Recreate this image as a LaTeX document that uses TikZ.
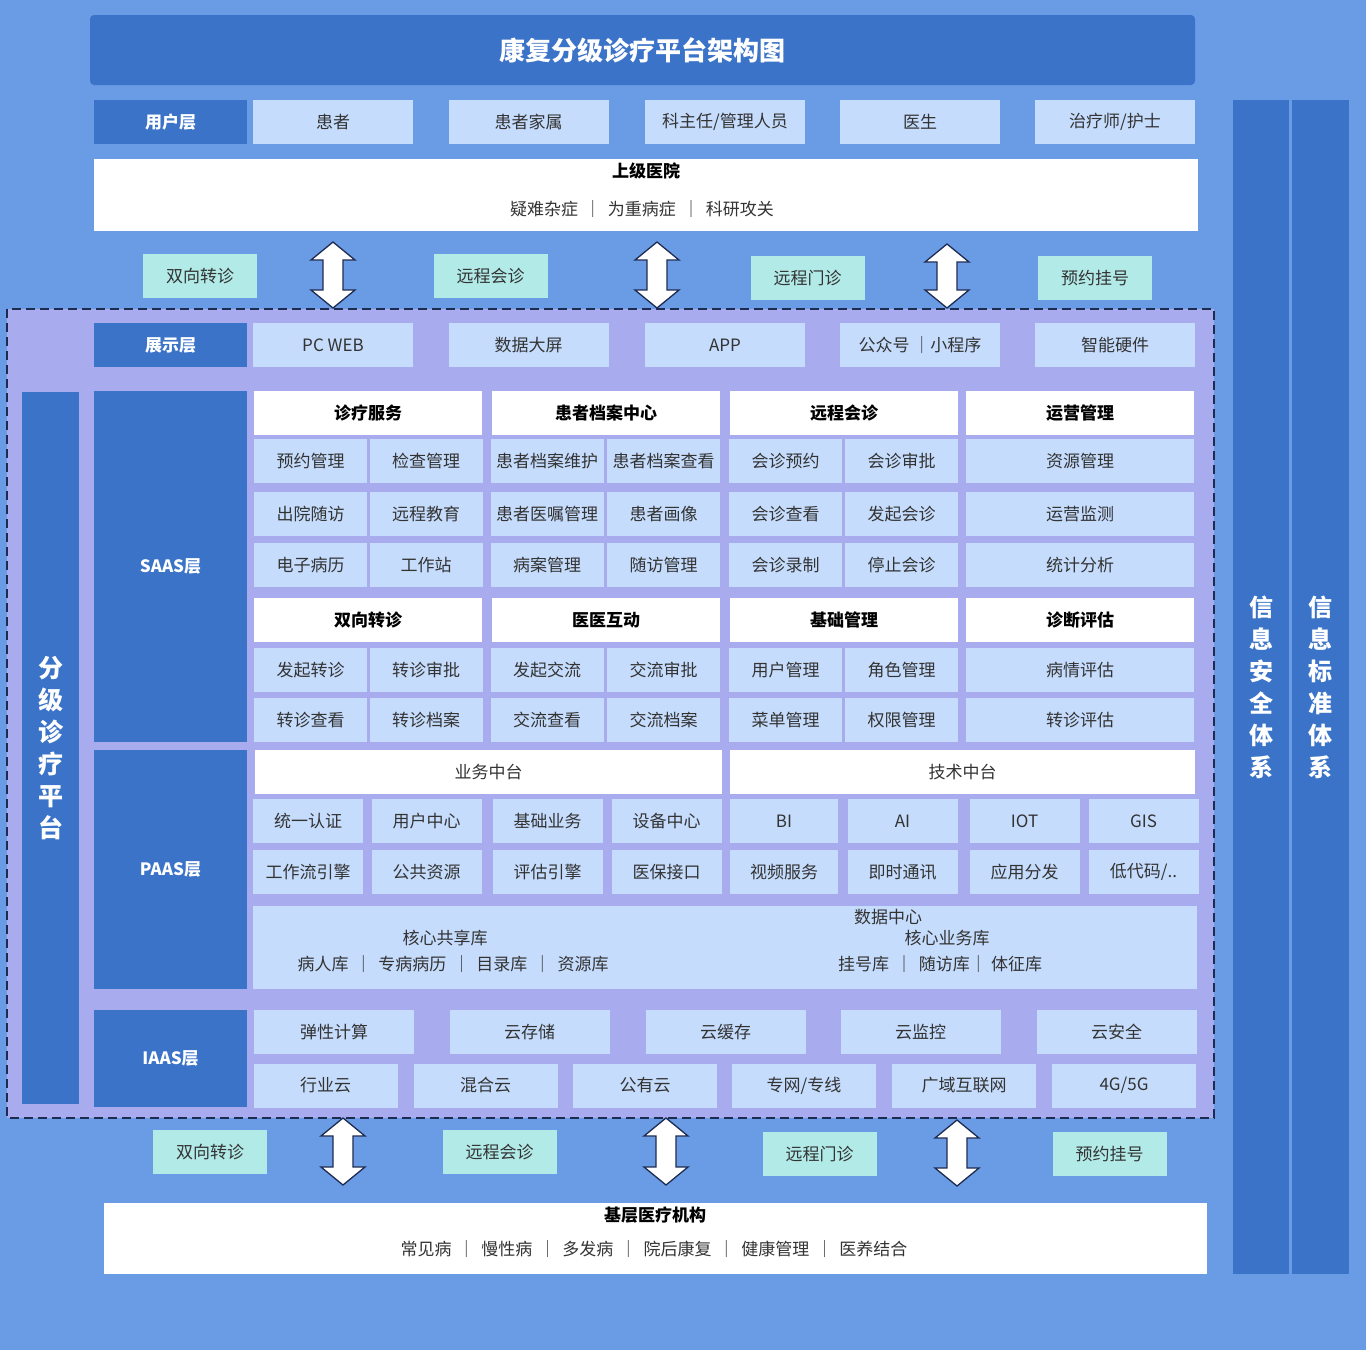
\documentclass[tikz,border=0pt]{standalone}
\usepackage{fontspec}
\setmainfont{Noto Sans CJK SC}
\definecolor{bgblue}{HTML}{6A9CE6}
\definecolor{darkblue}{HTML}{3A73C8}
\definecolor{lightblue}{HTML}{C5DCFC}
\definecolor{lavender}{HTML}{A8ABEE}
\definecolor{tealfill}{HTML}{B2EAE8}
\definecolor{txtgray}{HTML}{333333}
\definecolor{navy}{HTML}{1E2B50}
\newcommand{\sepbar}{\hspace{6.5pt}｜\hspace{6.5pt}}
% up-down block arrow: x, top, bottom
\newcommand{\dblblock}[3]{%
  \draw[blockarrow] (#1,#2) -- (#1+22,#2+18) -- (#1+10,#2+18) -- (#1+10,#3-18)
    -- (#1+22,#3-18) -- (#1,#3) -- (#1-22,#3-18) -- (#1-10,#3-18)
    -- (#1-10,#2+18) -- (#1-22,#2+18) -- cycle;}

\begin{document}
\begin{tikzpicture}[
		x=1pt, y=-1pt,
		every node/.style={inner sep=0pt, font=\fontsize{17}{20}\selectfont, text=txtgray},
		cell/.style={fill=lightblue, minimum height=44pt},
		whitecell/.style={fill=white, minimum height=44pt},
		headcell/.style={fill=white, minimum height=44pt, minimum width=228pt, text=black, font=\fontsize{17}{20}\selectfont\bfseries},
		layer/.style={fill=darkblue, minimum width=153pt, text=white, font=\fontsize{17}{20}\selectfont\bfseries},
		tealcell/.style={fill=tealfill, minimum width=114pt, minimum height=44pt},
		vbar/.style={fill=darkblue, align=center, text=white, font=\fontsize{25}{32}\selectfont\bfseries},
		boldtext/.style={text=black, font=\fontsize{17}{20}\selectfont\bfseries},
		blockarrow/.style={fill=white, draw=navy, line width=1.3pt, line join=miter},
		dashframe/.style={fill=lavender, draw=navy, dash pattern=on 9pt off 5pt, line width=2pt}
		]
		\fill[bgblue] (0,0) rectangle (1366,1350);
		\useasboundingbox (0,0) rectangle (1366,1350);

		% title and user layer
		\node[fill=darkblue, rounded corners=4pt, minimum width=1105pt, minimum height=70pt, text=white, font=\fontsize{26}{30}\selectfont\bfseries] (title) at (642.5,50) {康复分级诊疗平台架构图};
		\node[layer, minimum height=44pt] (userlayer) at (170.5,122) {用户层};
		\node[cell, minimum width=160pt] (patient) at (333,122) {患者};
		\node[cell, minimum width=160pt] (family) at (528.5,122) {患者家属};
		\node[cell, minimum width=160pt] (director) at (725,122) {科主任/管理人员};
		\node[cell, minimum width=160pt] (doctor) at (920,122) {医生};
		\node[cell, minimum width=160pt] (therapist) at (1115,122) {治疗师/护士};

		% upper hospital
		\node[fill=white, minimum width=1104pt, minimum height=72pt] (upper) at (646,195) {};
		\node[boldtext] (uppername) at (646,171) {上级医院};
		\node (upperlist) at (642,209) {疑难杂症\sepbar 为重病症\sepbar 科研攻关};

		\node[tealcell] (topreferral) at (200,276) {双向转诊};
		\node[tealcell] (topconsult) at (490.5,276) {远程会诊};
		\node[tealcell] (topclinic) at (807.5,278) {远程门诊};
		\node[tealcell] (topbooking) at (1095,278) {预约挂号};

		% platform frame
		\draw[dashframe] (7,309) rectangle (1214,1118);
		\dblblock{333}{242}{308}
		\dblblock{657}{242}{308}
		\dblblock{947}{244}{308}

		\node[layer, minimum height=44pt] (showlayer) at (170.5,345) {展示层};
		\node[cell, minimum width=160pt] (pcweb) at (333,345) {PC WEB};
		\node[cell, minimum width=160pt] (bigscreen) at (528.5,345) {数据大屏};
		\node[cell, minimum width=160pt] (app) at (725,345) {APP};
		\node[cell, minimum width=160pt] (miniprog) at (920,345) {公众号 ｜小程序};
		\node[cell, minimum width=160pt] (hardware) at (1115,345) {智能硬件};

		\node[vbar, minimum width=57pt, minimum height=712pt] (platform) at (50.5,748) {分\\级\\诊\\疗\\平\\台};

		% SAAS
		\node[layer, minimum height=351pt] (saas) at (170.5,566.5) {SAAS层};
		\node[headcell] (diagsvc) at (368,413) {诊疗服务};
		\node[headcell] (records) at (606,413) {患者档案中心};
		\node[headcell] (remoteconsult) at (844,413) {远程会诊};
		\node[headcell] (operation) at (1080,413) {运营管理};
		\node[cell, minimum width=113pt] (s11) at (310.5,461) {预约管理};
		\node[cell, minimum width=113pt] (s12) at (426,461) {检查管理};
		\node[cell, minimum width=113pt] (s13) at (547,461) {患者档案维护};
		\node[cell, minimum width=113pt] (s14) at (663.5,461) {患者档案查看};
		\node[cell, minimum width=113pt] (s15) at (785.5,461) {会诊预约};
		\node[cell, minimum width=113pt] (s16) at (901.5,461) {会诊审批};
		\node[cell, minimum width=228pt] (s17) at (1080,461) {资源管理};
		\node[cell, minimum width=113pt] (s21) at (310.5,514) {出院随访};
		\node[cell, minimum width=113pt] (s22) at (426,514) {远程教育};
		\node[cell, minimum width=113pt] (s23) at (547,514) {患者医嘱管理};
		\node[cell, minimum width=113pt] (s24) at (663.5,514) {患者画像};
		\node[cell, minimum width=113pt] (s25) at (785.5,514) {会诊查看};
		\node[cell, minimum width=113pt] (s26) at (901.5,514) {发起会诊};
		\node[cell, minimum width=228pt] (s27) at (1080,514) {运营监测};
		\node[cell, minimum width=113pt] (s31) at (310.5,565) {电子病历};
		\node[cell, minimum width=113pt] (s32) at (426,565) {工作站};
		\node[cell, minimum width=113pt] (s33) at (547,565) {病案管理};
		\node[cell, minimum width=113pt] (s34) at (663.5,565) {随访管理};
		\node[cell, minimum width=113pt] (s35) at (785.5,565) {会诊录制};
		\node[cell, minimum width=113pt] (s36) at (901.5,565) {停止会诊};
		\node[cell, minimum width=228pt] (s37) at (1080,565) {统计分析};
		\node[headcell] (referral) at (368,620) {双向转诊};
		\node[headcell] (interact) at (606,620) {医医互动};
		\node[headcell] (basemgmt) at (844,620) {基础管理};
		\node[headcell] (assess) at (1080,620) {诊断评估};
		\node[cell, minimum width=113pt] (s41) at (310.5,670) {发起转诊};
		\node[cell, minimum width=113pt] (s42) at (426,670) {转诊审批};
		\node[cell, minimum width=113pt] (s43) at (547,670) {发起交流};
		\node[cell, minimum width=113pt] (s44) at (663.5,670) {交流审批};
		\node[cell, minimum width=113pt] (s45) at (785.5,670) {用户管理};
		\node[cell, minimum width=113pt] (s46) at (901.5,670) {角色管理};
		\node[cell, minimum width=228pt] (s47) at (1080,670) {病情评估};
		\node[cell, minimum width=113pt] (s51) at (310.5,720) {转诊查看};
		\node[cell, minimum width=113pt] (s52) at (426,720) {转诊档案};
		\node[cell, minimum width=113pt] (s53) at (547,720) {交流查看};
		\node[cell, minimum width=113pt] (s54) at (663.5,720) {交流档案};
		\node[cell, minimum width=113pt] (s55) at (785.5,720) {菜单管理};
		\node[cell, minimum width=113pt] (s56) at (901.5,720) {权限管理};
		\node[cell, minimum width=228pt] (s57) at (1080,720) {转诊评估};

		% PAAS
		\node[layer, minimum height=239pt] (paas) at (170.5,869.5) {PAAS层};
		\node[whitecell, minimum width=467pt] (bizcenter) at (488.5,772) {业务中台};
		\node[whitecell, minimum width=465pt] (techcenter) at (962.5,772) {技术中台};
		\node[cell, minimum width=110pt] (p11) at (308,821) {统一认证};
		\node[cell, minimum width=110pt] (p12) at (426.5,821) {用户中心};
		\node[cell, minimum width=110pt] (p13) at (547.5,821) {基础业务};
		\node[cell, minimum width=110pt] (p14) at (666.5,821) {设备中心};
		\node[cell, minimum width=108pt] (p15) at (784,821) {BI};
		\node[cell, minimum width=110pt] (p16) at (902.5,821) {AI};
		\node[cell, minimum width=110pt] (p17) at (1024.5,821) {IOT};
		\node[cell, minimum width=110pt] (p18) at (1143.5,821) {GIS};
		\node[cell, minimum width=110pt] (p21) at (308,872) {工作流引擎};
		\node[cell, minimum width=110pt] (p22) at (426.5,872) {公共资源};
		\node[cell, minimum width=110pt] (p23) at (547.5,872) {评估引擎};
		\node[cell, minimum width=110pt] (p24) at (666.5,872) {医保接口};
		\node[cell, minimum width=108pt] (p25) at (784,872) {视频服务};
		\node[cell, minimum width=110pt] (p26) at (902.5,872) {即时通讯};
		\node[cell, minimum width=110pt] (p27) at (1024.5,872) {应用分发};
		\node[cell, minimum width=110pt] (p28) at (1143.5,872) {低代码/..};
		\node[cell, minimum width=944pt, minimum height=83pt] (datacenter) at (725,947.5) {};
		\node (dctitle) at (888,917) {数据中心};
		\node (sharedlib) at (445,938) {核心共享库};
		\node (sharedlist) at (453,964) {病人库\sepbar 专病病历\sepbar 目录库\sepbar 资源库};
		\node (bizlib) at (947,938) {核心业务库};
		\node (bizlist) at (940,964) {挂号库\sepbar 随访库｜\hspace{4pt}体征库};

		% IAAS
		\node[layer, minimum height=97pt] (iaas) at (170.5,1058.5) {IAAS层};
		\node[cell, minimum width=160pt] (i11) at (334,1032) {弹性计算};
		\node[cell, minimum width=160pt] (i12) at (529.5,1032) {云存储};
		\node[cell, minimum width=160pt] (i13) at (725.5,1032) {云缓存};
		\node[cell, minimum width=160pt] (i14) at (920.5,1032) {云监控};
		\node[cell, minimum width=160pt] (i15) at (1116.5,1032) {云安全};
		\node[cell, minimum width=144pt] (i21) at (325.5,1085.5) {行业云};
		\node[cell, minimum width=144pt] (i22) at (485.5,1085.5) {混合云};
		\node[cell, minimum width=144pt] (i23) at (645,1085.5) {公有云};
		\node[cell, minimum width=144pt] (i24) at (804,1085.5) {专网/专线};
		\node[cell, minimum width=144pt] (i25) at (964,1085.5) {广域互联网};
		\node[cell, minimum width=144pt] (i26) at (1124,1085.5) {4G/5G};

		% grassroots
		\dblblock{343}{1118}{1185}
		\dblblock{666}{1118}{1185}
		\dblblock{957}{1120}{1186}
		\node[tealcell] (botreferral) at (210,1152) {双向转诊};
		\node[tealcell] (botconsult) at (499.5,1152) {远程会诊};
		\node[tealcell] (botclinic) at (819.5,1154) {远程门诊};
		\node[tealcell] (botbooking) at (1109.5,1154) {预约挂号};
		\node[fill=white, minimum width=1103pt, minimum height=71pt] (grassroots) at (655.5,1238.5) {};
		\node[boldtext] (grassname) at (655,1215) {基层医疗机构};
		\node (grasslist) at (654,1249) {常见病\sepbar 慢性病\sepbar 多发病\sepbar 院后康复\sepbar 健康管理\sepbar 医养结合};

		% side systems
		\node[vbar, minimum width=56pt, minimum height=1174pt, font=\fontsize{24}{32}\selectfont\bfseries] (security) at (1261,687) {信\\息\\安\\全\\体\\系};
		\node[vbar, minimum width=57pt, minimum height=1174pt, font=\fontsize{24}{32}\selectfont\bfseries] (standard) at (1320.5,687) {信\\息\\标\\准\\体\\系};
	\end{tikzpicture}
\end{document}
